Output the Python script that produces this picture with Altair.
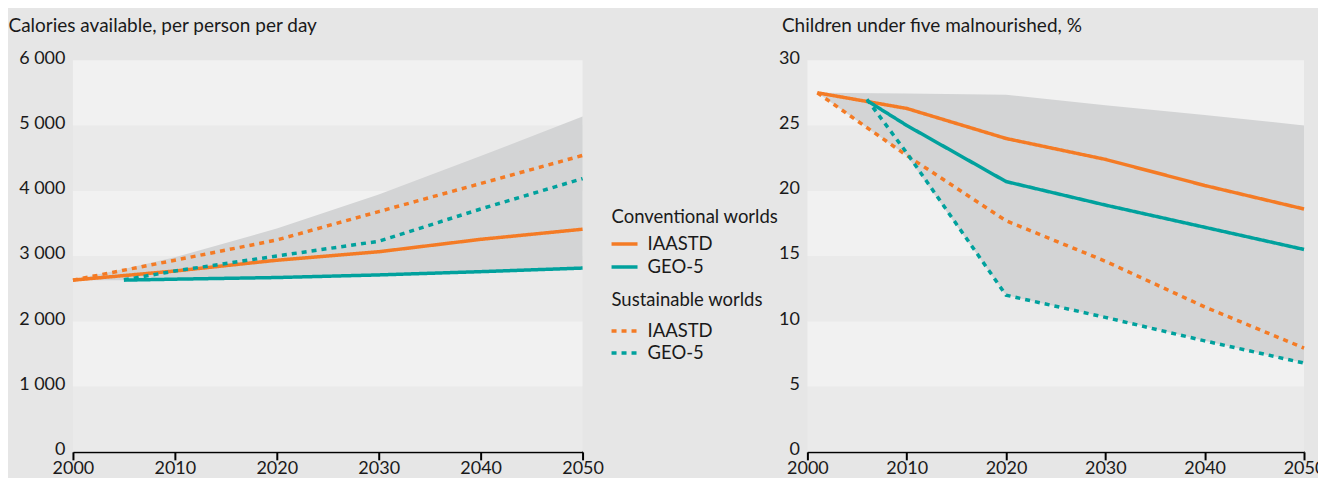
import altair as alt
import pandas as pd

FONT = "Lato"
ORANGE = "#f47b25"
TEAL = "#00a19d"
BG = "#e6e6e6"
BAND_LIGHT = "#f1f1f1"
BAND_DARK = "#eaeaea"
AREA = "#d3d4d5"
TXT = "#1a1a1a"

# ---------------- Left panel: calories ----------------
cal_title = "Calories available, per person per day"
cal_ticks = [0, 1000, 2000, 3000, 4000, 5000, 6000]
year_ticks = [2000, 2010, 2020, 2030, 2040, 2050]

cal_years_iaastd = [2000, 2010, 2020, 2030, 2040, 2050]
cal_years_geo = [2005, 2010, 2020, 2030, 2040, 2050]
cal_conv_iaastd = [2630, 2770, 2935, 3065, 3255, 3410]
cal_conv_geo = [2630, 2645, 2670, 2710, 2760, 2815]
cal_sust_iaastd = [2630, 2935, 3245, 3680, 4110, 4540]
cal_sust_geo = [2635, 2770, 3000, 3225, 3720, 4185]

cal_band_years = [2000, 2005, 2010, 2020, 2030, 2040, 2050]
cal_band_low = [2630, 2630, 2645, 2670, 2710, 2760, 2815]
cal_band_high = [2640, 2800, 2980, 3420, 3940, 4530, 5135]

# ---------------- Right panel: malnourished ----------------
mal_title = "Children under five malnourished, %"
mal_ticks = [0, 5, 10, 15, 20, 25, 30]

mal_years_iaastd = [2001, 2010, 2020, 2030, 2040, 2050]
mal_years_geo = [2006, 2010, 2020, 2030, 2040, 2050]
mal_conv_iaastd = [27.5, 26.3, 24.0, 22.4, 20.4, 18.6]
mal_conv_geo = [26.9, 25.0, 20.7, 18.9, 17.2, 15.5]
mal_sust_iaastd = [27.5, 22.7, 17.7, 14.6, 11.1, 7.95]
mal_sust_geo = [27.0, 22.9, 12.0, 10.3, 8.5, 6.8]

mal_band_years = [2001, 2010, 2020, 2030, 2040, 2050]
mal_band_low = [27.5, 22.7, 12.0, 10.3, 8.5, 6.8]
mal_band_high = [27.5, 27.45, 27.35, 26.55, 25.8, 25.0]

# ---------------- Legend ----------------
legend_headers = ["Conventional worlds", "Sustainable worlds"]
legend_models = ["IAASTD", "GEO-5"]
legend_colors = [ORANGE, TEAL]

W_LEFT, W_RIGHT, H = 510, 497, 392
TITLE_SIZE, LABEL_SIZE, LEG_SIZE = 19, 18, 18.5


def line_frame(series):
    rows = []
    for model, world, years, vals in series:
        for y, v in zip(years, vals):
            rows.append({"year": y, "value": v, "model": model, "world": world,
                         "key": model + "|" + world})
    return pd.DataFrame(rows)


def band_frame(ticks):
    rows = []
    for i in range(len(ticks) - 1):
        rows.append({"year": year_ticks[0], "year2": year_ticks[-1],
                     "value": ticks[i], "value2": ticks[i + 1],
                     "shade": "dark" if i % 2 == 0 else "light"})
    return pd.DataFrame(rows)


def panel(title, ticks, label_expr, series, band_years, band_low, band_high, width, title_x):
    xscale = alt.Scale(domain=[year_ticks[0], year_ticks[-1]], nice=False, zero=False)
    yscale = alt.Scale(domain=[ticks[0], ticks[-1]], nice=False)
    xaxis = alt.Axis(values=year_ticks, format="d", title=None, grid=False,
                     domain=True, domainColor="#000000", domainWidth=2,
                     ticks=True, tickSize=8, tickColor="#000000", tickWidth=2,
                     labelPadding=0, labelFont=FONT, labelFontSize=LABEL_SIZE,
                     labelColor=TXT, labelFlush=False)
    yaxis = alt.Axis(values=ticks, labelExpr=label_expr, domain=False, ticks=False,
                     grid=False, labelPadding=8, labelOffset=-2, labelFont=FONT,
                     labelFontSize=LABEL_SIZE,
                     labelColor=TXT, title=title, titleAngle=0,
                     titleAlign="left", titleBaseline="middle", titleX=title_x,
                     titleY=-35, titleFont=FONT, titleFontSize=TITLE_SIZE,
                     titleFontWeight="normal", titleColor=TXT)

    X = lambda f: alt.X(f, scale=xscale, axis=xaxis)
    Y = lambda f: alt.Y(f, scale=yscale, axis=yaxis)

    bands = alt.Chart(band_frame(ticks)).mark_rect().encode(
        x=X("year:Q"), x2="year2:Q",
        y=Y("value:Q"), y2="value2:Q",
        fill=alt.Fill("shade:N", scale=alt.Scale(domain=["dark", "light"],
                                                   range=[BAND_DARK, BAND_LIGHT]),
                      legend=None),
    )

    band_df = pd.DataFrame({"year": band_years, "value": band_low, "value2": band_high})
    area = alt.Chart(band_df).mark_area(color=AREA, opacity=1).encode(
        x=X("year:Q"), y=Y("value:Q"), y2="value2:Q",
    )

    df = line_frame(series)
    lines = alt.Chart(df).mark_line(strokeWidth=3.5, strokeCap="butt").encode(
        x=X("year:Q"), y=Y("value:Q"),
        detail="key:N",
        stroke=alt.Stroke("model:N", scale=alt.Scale(domain=legend_models,
                                                      range=legend_colors),
                          legend=None),
        strokeDash=alt.StrokeDash("world:N",
                                  scale=alt.Scale(domain=["Conventional", "Sustainable"],
                                                  range=[[1, 0], [5, 5]]),
                                  legend=None),
    )
    return alt.layer(bands, area, lines).properties(width=width, height=H)


left = panel(
    cal_title, cal_ticks,
    "datum.value >= 1000 ? floor(datum.value / 1000) + ' 000' : '' + datum.value",
    [("IAASTD", "Conventional", cal_years_iaastd, cal_conv_iaastd),
     ("GEO-5", "Conventional", cal_years_geo, cal_conv_geo),
     ("IAASTD", "Sustainable", cal_years_iaastd, cal_sust_iaastd),
     ("GEO-5", "Sustainable", cal_years_geo, cal_sust_geo)],
    cal_band_years, cal_band_low, cal_band_high, W_LEFT, -65,
)

right = panel(
    mal_title, mal_ticks, "'' + datum.value",
    [("IAASTD", "Conventional", mal_years_iaastd, mal_conv_iaastd),
     ("GEO-5", "Conventional", mal_years_geo, mal_conv_geo),
     ("IAASTD", "Sustainable", mal_years_iaastd, mal_sust_iaastd),
     ("GEO-5", "Sustainable", mal_years_geo, mal_sust_geo)],
    mal_band_years, mal_band_low, mal_band_high, W_RIGHT, -26,
)

# Legend panel (pixel positions within the panel)
LEG_W = 174
LEG_X0 = 8
leg_text_rows = []
leg_rule_rows = []
ypos = [157, 184, 207, 240, 271, 293]
r = 0
for gi, header in enumerate(legend_headers):
    leg_text_rows.append({"label": header, "x": LEG_X0, "y": ypos[r]})
    r += 1
    for mi, model in enumerate(legend_models):
        leg_text_rows.append({"label": model, "x": LEG_X0 + 36, "y": ypos[r]})
        leg_rule_rows.append({"x": LEG_X0, "x2": LEG_X0 + 26, "y": ypos[r], "model": model,
                              "world": "Conventional" if gi == 0 else "Sustainable"})
        r += 1

lx = alt.Scale(domain=[0, LEG_W], range=[0, LEG_W])
ly = alt.Scale(domain=[0, H], range=[0, H])
leg_text = alt.Chart(pd.DataFrame(leg_text_rows)).mark_text(
    align="left", baseline="middle", font=FONT, fontSize=LEG_SIZE, color=TXT
).encode(x=alt.X("x:Q", scale=lx, axis=None), y=alt.Y("y:Q", scale=ly, axis=None),
         text="label:N")
leg_rules = alt.Chart(pd.DataFrame(leg_rule_rows)).mark_rule(strokeWidth=3.5, strokeCap="butt").encode(
    x=alt.X("x:Q", scale=lx, axis=None), x2="x2:Q",
    y=alt.Y("y:Q", scale=ly, axis=None),
    stroke=alt.Stroke("model:N", scale=alt.Scale(domain=legend_models, range=legend_colors),
                      legend=None),
    strokeDash=alt.StrokeDash("world:N",
                              scale=alt.Scale(domain=["Conventional", "Sustainable"],
                                              range=[[1, 0], [5, 5]]),
                              legend=None),
)
legend = alt.layer(leg_rules, leg_text).properties(width=LEG_W, height=H)

chart = alt.hconcat(left, legend, right, spacing=0).properties(
    background=BG, padding={"left": 0, "top": 8, "right": -7, "bottom": 0}
).configure_view(stroke=None).resolve_scale(x="independent", y="independent")

chart.save("out.html", embed_options={"renderer": "svg", "actions": False})
